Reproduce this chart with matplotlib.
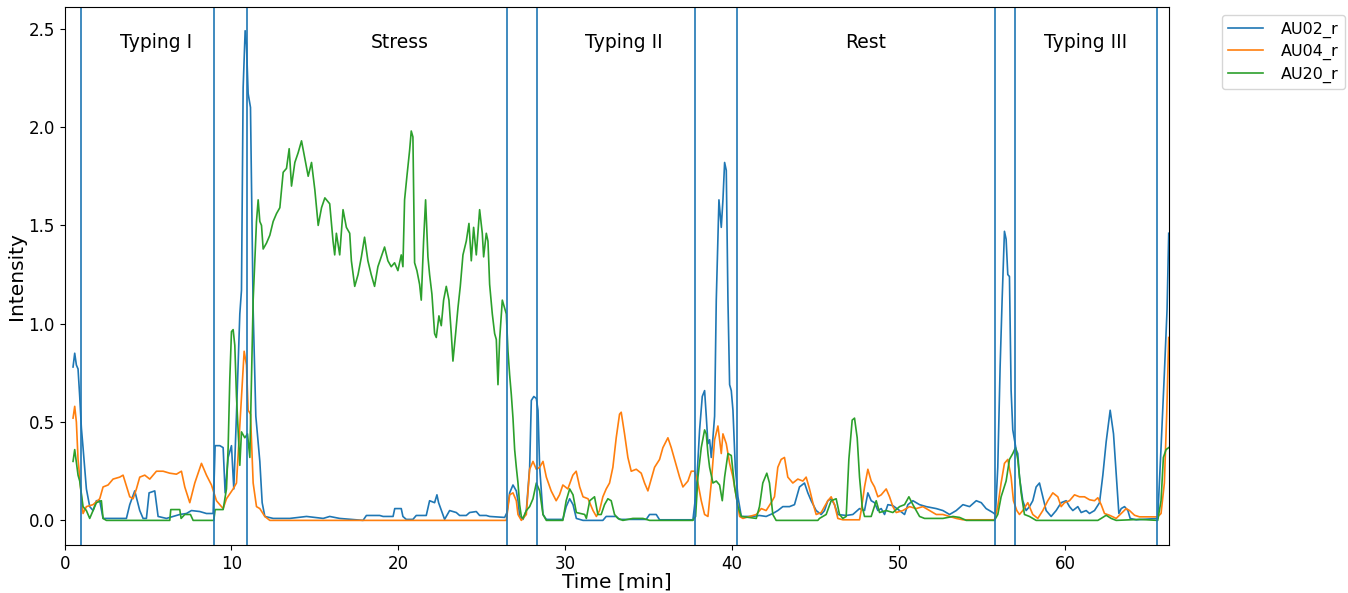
import matplotlib.pyplot as plt

# phase boundaries [min] and labels
borders = [0.96, 8.93, 10.91, 26.5, 28.3, 37.77, 40.29, 55.78, 57.01, 65.47]
phase_names = ['Typing I', 'Stress', 'Typing II', 'Rest', 'Typing III']
phase_x = [5.5, 20.1, 33.5, 48.0, 61.2]

# AU02_r (blue)
t_au02 = [0.5, 0.6, 0.7, 0.8, 0.9, 1.0, 1.1, 1.3, 1.5, 1.7, 1.9, 2.1, 2.3, 3.7, 3.9, 4.2, 4.5, 4.7,
          4.9, 5.06, 5.4, 5.6, 6.1, 6.5, 6.9, 7.3, 7.6, 8.1, 8.5, 8.9, 9.02, 9.3, 9.5, 9.62, 9.8,
          10.0, 10.14, 10.3, 10.5, 10.6, 10.7, 10.82, 10.9, 11.0, 11.14, 11.3, 11.46, 11.7, 11.84,
          12.0, 12.5, 13.5, 14.5, 15.5, 15.89, 16.49, 17.89, 18.09, 18.89, 19.09, 19.69, 19.79,
          20.18, 20.28, 20.48, 20.88, 21.08, 21.68, 21.88, 22.18, 22.32, 22.42, 22.78, 23.08,
          23.48, 23.68, 24.08, 24.28, 24.68, 24.88, 25.28, 25.48, 26.38, 26.52, 26.68, 26.88,
          27.08, 27.18, 27.28, 27.48, 27.68, 27.88, 27.98, 28.13, 28.28, 28.38, 28.48, 28.68,
          28.88, 29.87, 30.07, 30.28, 30.48, 30.68, 31.08, 32.27, 32.47, 33.07, 33.27, 34.87,
          35.07, 35.47, 35.67, 37.67, 37.87, 38.07, 38.23, 38.37, 38.47, 38.57, 38.67, 38.77,
          38.87, 38.97, 39.07, 39.23, 39.37, 39.47, 39.57, 39.67, 39.77, 39.87, 39.97, 40.07,
          40.21, 40.37, 40.57, 41.26, 41.66, 42.06, 42.46, 42.76, 43.06, 43.46, 43.76, 44.06,
          44.36, 44.56, 44.76, 45.06, 45.36, 45.56, 45.76, 45.96, 46.16, 46.36, 46.86, 47.26,
          47.66, 47.96, 48.16, 48.36, 48.56, 48.76, 48.96, 49.16, 49.36, 49.66, 50.06, 50.36,
          50.56, 50.86, 51.26, 51.66, 52.26, 52.66, 53.06, 53.46, 53.86, 54.26, 54.66, 54.96,
          55.25, 55.65, 55.81, 55.95, 56.09, 56.21, 56.35, 56.45, 56.55, 56.65, 56.75, 56.85,
          56.95, 57.05, 57.15, 57.25, 57.45, 57.65, 57.85, 58.05, 58.25, 58.45, 58.65, 58.85,
          59.15, 59.45, 59.75, 60.05, 60.25, 60.45, 60.75, 60.95, 61.25, 61.45, 61.75, 62.05,
          62.25, 62.45, 62.69, 62.89, 63.09, 63.21, 63.35, 63.55, 63.75, 63.89, 64.25, 65.54,
          65.74, 65.94, 66.1, 66.2]
au02 = [0.78, 0.85, 0.79, 0.77, 0.63, 0.47, 0.37, 0.16, 0.07, 0.05, 0.10, 0.10, 0.01, 0.01, 0.08,
        0.15, 0.05, 0.01, 0.01, 0.14, 0.15, 0.02, 0.01, 0.02, 0.03, 0.035, 0.05, 0.045, 0.035,
        0.035, 0.38, 0.38, 0.37, 0.14, 0.32, 0.38, 0.16, 0.54, 1.05, 1.17, 2.20, 2.49, 2.42, 2.17,
        2.10, 1.07, 0.53, 0.30, 0.09, 0.02, 0.01, 0.01, 0.02, 0.01, 0.02, 0.01, 0.0, 0.025, 0.025,
        0.02, 0.02, 0.06, 0.06, 0.02, 0.005, 0.005, 0.025, 0.025, 0.10, 0.09, 0.13, 0.09, 0.005,
        0.05, 0.04, 0.025, 0.025, 0.04, 0.045, 0.025, 0.025, 0.02, 0.015, 0.04, 0.14, 0.18, 0.15,
        0.10, 0.02, 0.005, 0.05, 0.27, 0.61, 0.63, 0.62, 0.56, 0.27, 0.03, 0.005, 0.005, 0.07,
        0.11, 0.08, 0.01, 0.0, 0.0, 0.02, 0.02, 0.005, 0.005, 0.03, 0.03, 0.003, 0.003, 0.15,
        0.46, 0.63, 0.66, 0.53, 0.39, 0.41, 0.32, 0.42, 0.53, 1.12, 1.63, 1.49, 1.63, 1.82, 1.78,
        1.12, 0.69, 0.66, 0.56, 0.27, 0.12, 0.02, 0.02, 0.025, 0.02, 0.035, 0.05, 0.07, 0.07,
        0.08, 0.17, 0.19, 0.14, 0.10, 0.05, 0.03, 0.05, 0.10, 0.11, 0.08, 0.03, 0.025, 0.03, 0.06,
        0.05, 0.14, 0.10, 0.09, 0.05, 0.06, 0.03, 0.08, 0.075, 0.05, 0.03, 0.08, 0.10, 0.08, 0.07,
        0.06, 0.05, 0.03, 0.05, 0.08, 0.07, 0.10, 0.09, 0.06, 0.04, 0.03, 0.27, 0.78, 1.12, 1.47,
        1.43, 1.25, 1.24, 0.66, 0.46, 0.41, 0.36, 0.34, 0.22, 0.10, 0.05, 0.07, 0.10, 0.17, 0.19,
        0.12, 0.05, 0.02, 0.05, 0.09, 0.10, 0.07, 0.05, 0.07, 0.04, 0.05, 0.035, 0.05, 0.09, 0.23,
        0.40, 0.56, 0.44, 0.19, 0.035, 0.06, 0.07, 0.05, 0.01, 0.003, 0.01, 0.37, 0.75, 1.07, 1.46]

# AU04_r (orange)
t_au04 = [0.5, 0.6, 0.7, 0.8, 0.9, 1.0, 1.1, 1.3, 1.7, 2.1, 2.3, 2.6, 2.9, 3.3, 3.5, 3.7, 3.9, 4.1,
          4.3, 4.5, 4.8, 5.1, 5.5, 5.9, 6.3, 6.7, 7.0, 7.2, 7.5, 7.8, 8.2, 8.5, 8.8, 9.1, 9.5, 9.7,
          10.1, 10.3, 10.6, 10.76, 10.9, 11.0, 11.14, 11.3, 11.5, 11.7, 12.0, 12.3, 26.48, 26.68,
          26.88, 27.08, 27.18, 27.38, 27.68, 27.88, 28.08, 28.28, 28.48, 28.68, 28.88, 29.17,
          29.47, 29.67, 29.87, 30.17, 30.47, 30.67, 30.88, 31.08, 31.38, 31.68, 31.88, 32.07,
          32.27, 32.47, 32.67, 32.87, 33.07, 33.27, 33.37, 33.57, 33.77, 33.97, 34.27, 34.57,
          34.77, 34.97, 35.17, 35.37, 35.67, 35.87, 36.17, 36.37, 36.57, 36.87, 37.07, 37.37,
          37.57, 37.77, 37.97, 38.17, 38.37, 38.57, 38.77, 38.97, 39.17, 39.37, 39.47, 39.67,
          39.87, 40.07, 40.27, 40.47, 40.67, 41.07, 41.47, 41.77, 42.06, 42.36, 42.56, 42.76,
          42.96, 43.16, 43.36, 43.66, 43.96, 44.26, 44.46, 44.66, 44.86, 45.06, 45.36, 45.56,
          45.76, 45.96, 46.16, 46.36, 46.66, 47.66, 47.76, 47.96, 48.16, 48.36, 48.56, 48.76,
          48.96, 49.26, 49.46, 49.66, 49.86, 50.26, 50.66, 51.06, 51.46, 51.86, 52.26, 52.66,
          53.06, 53.46, 53.86, 55.75, 55.95, 56.15, 56.35, 56.55, 56.75, 56.89, 57.09, 57.25,
          57.45, 57.75, 58.05, 58.35, 58.65, 58.95, 59.25, 59.55, 59.75, 59.95, 60.25, 60.55,
          60.85, 61.15, 61.45, 61.75, 61.95, 62.15, 62.35, 62.65, 63.05, 63.35, 63.65, 63.85,
          64.15, 64.45, 65.54, 65.74, 65.94, 66.08, 66.2]
au04 = [0.52, 0.58, 0.50, 0.31, 0.22, 0.12, 0.035, 0.07, 0.08, 0.11, 0.17, 0.18, 0.21, 0.22, 0.23,
        0.175, 0.12, 0.11, 0.16, 0.22, 0.23, 0.21, 0.25, 0.25, 0.24, 0.235, 0.25, 0.17, 0.09, 0.19,
        0.29, 0.23, 0.18, 0.10, 0.06, 0.11, 0.16, 0.19, 0.63, 0.86, 0.79, 0.56, 0.54, 0.19, 0.07,
        0.06, 0.02, 0.0, 0.0, 0.13, 0.14, 0.10, 0.03, 0.0, 0.03, 0.26, 0.30, 0.26, 0.27, 0.30,
        0.22, 0.15, 0.10, 0.13, 0.18, 0.16, 0.23, 0.25, 0.17, 0.12, 0.11, 0.05, 0.02, 0.05, 0.12,
        0.16, 0.19, 0.27, 0.42, 0.54, 0.55, 0.44, 0.32, 0.25, 0.26, 0.24, 0.19, 0.15, 0.21, 0.27,
        0.31, 0.37, 0.42, 0.37, 0.31, 0.22, 0.17, 0.20, 0.25, 0.25, 0.19, 0.10, 0.03, 0.02, 0.19,
        0.41, 0.48, 0.34, 0.44, 0.39, 0.29, 0.22, 0.12, 0.02, 0.01, 0.02, 0.03, 0.06, 0.05, 0.09,
        0.12, 0.27, 0.31, 0.32, 0.22, 0.19, 0.21, 0.20, 0.22, 0.16, 0.09, 0.03, 0.04, 0.07, 0.10,
        0.12, 0.08, 0.01, 0.003, 0.003, 0.05, 0.17, 0.26, 0.20, 0.17, 0.12, 0.13, 0.16, 0.12,
        0.07, 0.04, 0.05, 0.07, 0.06, 0.07, 0.05, 0.03, 0.03, 0.02, 0.01, 0.003, 0.003, 0.07,
        0.19, 0.29, 0.31, 0.22, 0.10, 0.05, 0.03, 0.05, 0.09, 0.03, 0.01, 0.05, 0.10, 0.14, 0.12,
        0.07, 0.09, 0.10, 0.13, 0.12, 0.12, 0.105, 0.10, 0.115, 0.08, 0.035, 0.026, 0.01, 0.035,
        0.06, 0.05, 0.026, 0.018, 0.018, 0.035, 0.19, 0.54, 0.93]

# AU20_r (green)
t_au20 = [0.5, 0.6, 0.8, 0.9, 1.1, 1.3, 1.5, 1.7, 1.9, 2.2, 2.3, 2.5, 6.3, 6.36, 6.9, 6.98, 7.2,
          7.54, 7.7, 8.94, 9.02, 9.5, 9.7, 9.8, 9.9, 10.0, 10.1, 10.2, 10.3, 10.4, 10.5, 10.6, 10.8,
          10.96, 11.1, 11.2, 11.3, 11.5, 11.6, 11.7, 11.8, 11.9, 12.1, 12.3, 12.5, 12.7, 12.9, 13.1,
          13.3, 13.46, 13.6, 13.8, 14.0, 14.2, 14.4, 14.6, 14.8, 15.0, 15.2, 15.4, 15.6, 15.89,
          16.09, 16.19, 16.29, 16.49, 16.69, 16.89, 17.09, 17.19, 17.39, 17.59, 17.79, 17.98,
          18.18, 18.38, 18.58, 18.78, 18.98, 19.18, 19.38, 19.58, 19.78, 19.98, 20.18, 20.28,
          20.38, 20.52, 20.68, 20.78, 20.88, 20.98, 21.12, 21.28, 21.38, 21.52, 21.64, 21.78,
          21.88, 22.02, 22.18, 22.28, 22.44, 22.58, 22.72, 22.88, 23.04, 23.18, 23.28, 23.44,
          23.58, 23.72, 23.88, 24.08, 24.24, 24.38, 24.52, 24.68, 24.88, 25.04, 25.12, 25.28,
          25.38, 25.48, 25.64, 25.78, 25.88, 25.98, 26.08, 26.24, 26.38, 26.48, 26.58, 26.68,
          26.78, 26.88, 26.98, 27.08, 27.18, 27.28, 27.38, 27.48, 27.68, 27.88, 28.08, 28.28,
          28.48, 28.68, 28.88, 29.87, 30.07, 30.28, 30.48, 30.68, 31.18, 31.28, 31.48, 31.77,
          31.97, 32.17, 32.37, 32.57, 32.77, 32.97, 33.17, 33.47, 34.07, 34.67, 35.07, 37.67,
          37.83, 37.97, 38.17, 38.37, 38.47, 38.57, 38.67, 38.87, 39.07, 39.27, 39.43, 39.57,
          39.77, 39.97, 40.17, 40.37, 40.57, 41.47, 41.66, 41.86, 42.1, 42.26, 42.46, 42.66,
          45.16, 45.26, 45.66, 45.96, 46.26, 46.46, 46.66, 46.86, 47.02, 47.22, 47.36, 47.52,
          47.66, 47.82, 47.96, 48.36, 48.66, 48.86, 49.26, 49.66, 50.06, 50.36, 50.62, 50.86,
          51.06, 51.26, 51.56, 52.66, 53.26, 53.66, 54.06, 55.75, 55.95, 56.15, 56.45, 56.65,
          56.85, 57.01, 57.15, 57.35, 57.55, 57.85, 58.25, 61.95, 62.15, 62.45, 62.75, 63.05,
          64.45, 65.54, 65.74, 65.88, 66.04, 66.2]
au20 = [0.30, 0.36, 0.23, 0.20, 0.07, 0.05, 0.01, 0.05, 0.09, 0.10, 0.01, 0.0, 0.0, 0.055, 0.055,
        0.01, 0.03, 0.03, 0.0, 0.0, 0.055, 0.055, 0.16, 0.37, 0.72, 0.96, 0.97, 0.89, 0.63, 0.45,
        0.28, 0.45, 0.42, 0.44, 0.32, 0.72, 1.12, 1.52, 1.63, 1.52, 1.50, 1.38, 1.41, 1.45, 1.52,
        1.56, 1.59, 1.77, 1.79, 1.89, 1.70, 1.82, 1.87, 1.93, 1.84, 1.75, 1.82, 1.68, 1.50, 1.59,
        1.64, 1.61, 1.42, 1.35, 1.46, 1.35, 1.58, 1.49, 1.46, 1.32, 1.19, 1.25, 1.34, 1.44, 1.32,
        1.25, 1.19, 1.29, 1.34, 1.39, 1.32, 1.29, 1.31, 1.27, 1.35, 1.29, 1.63, 1.75, 1.88, 1.98,
        1.95, 1.31, 1.27, 1.20, 1.12, 1.42, 1.63, 1.34, 1.25, 1.15, 0.95, 0.93, 1.04, 0.99, 1.12,
        1.19, 1.12, 0.95, 0.81, 0.95, 1.08, 1.19, 1.35, 1.42, 1.51, 1.32, 1.49, 1.35, 1.58, 1.46,
        1.34, 1.46, 1.42, 1.20, 1.05, 0.95, 0.92, 0.69, 0.92, 1.12, 1.08, 1.05, 0.86, 0.74, 0.64,
        0.52, 0.36, 0.27, 0.19, 0.08, 0.02, 0.01, 0.05, 0.07, 0.11, 0.19, 0.15, 0.03, 0.0, 0.0,
        0.10, 0.16, 0.13, 0.04, 0.03, 0.01, 0.10, 0.12, 0.03, 0.03, 0.08, 0.11, 0.10, 0.03, 0.01,
        0.0, 0.01, 0.01, 0.0, 0.0, 0.02, 0.22, 0.37, 0.46, 0.44, 0.34, 0.27, 0.19, 0.20, 0.18,
        0.10, 0.22, 0.34, 0.33, 0.17, 0.07, 0.02, 0.01, 0.07, 0.19, 0.24, 0.19, 0.03, 0.0, 0.0,
        0.01, 0.03, 0.10, 0.11, 0.03, 0.01, 0.02, 0.31, 0.51, 0.52, 0.42, 0.22, 0.07, 0.02, 0.02,
        0.10, 0.04, 0.05, 0.04, 0.07, 0.08, 0.12, 0.08, 0.05, 0.02, 0.01, 0.01, 0.02, 0.015, 0.0,
        0.0, 0.03, 0.12, 0.20, 0.31, 0.34, 0.37, 0.31, 0.14, 0.03, 0.02, 0.0, 0.0, 0.01, 0.026,
        0.01, 0.0, 0.005, 0.0, 0.10, 0.32, 0.36, 0.37]

fig, ax = plt.subplots(figsize=(13.48, 5.93), dpi=100)
fig.subplots_adjust(left=0.048, right=0.867, top=0.988, bottom=0.081)

ax.plot(t_au02, au02, color='C0', lw=1.2, label='AU02_r')
ax.plot(t_au04, au04, color='C1', lw=1.2, label='AU04_r')
ax.plot(t_au20, au20, color='C2', lw=1.2, label='AU20_r')

for b in borders:
    ax.axvline(b, color='C0', lw=1.2)
for name, x in zip(phase_names, phase_x):
    ax.text(x, 2.43, name, ha='center', va='center', fontsize=13.5)

ax.set_xlim(0, 66.2)
ax.set_ylim(-0.125, 2.61)
ax.set_xlabel('Time [min]', fontsize=14.5, labelpad=0)
ax.set_ylabel('Intensity', fontsize=14.5, labelpad=2)
ax.tick_params(labelsize=12)
ax.legend(bbox_to_anchor=(1.041, 1), loc='upper left', fontsize=11.5,
          handlelength=2.2, handletextpad=1.1, labelspacing=0.4)

plt.savefig('out.png')
